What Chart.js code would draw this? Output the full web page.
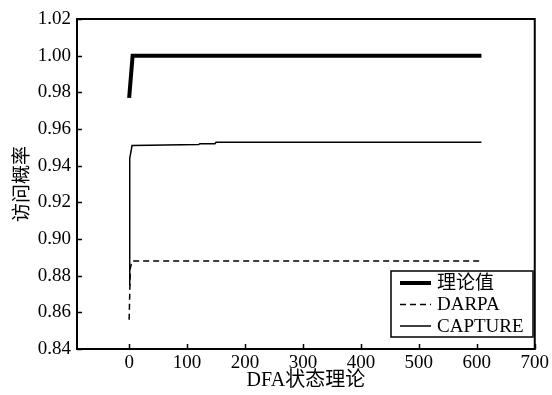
<!DOCTYPE html>
<html>
  <head>
    <meta charset="UTF-8" />
    <title>访问概率</title>
    <style>
      * { margin: 0; padding: 0; }
      body { background: #fff; width: 552px; height: 395px; overflow: hidden; }
      #wrap { width: 552px; height: 395px; }
    </style>
  </head>
  <body>
    <div id="wrap"><canvas id="chart" width="552" height="395"></canvas></div>
    <script src="https://cdn.jsdelivr.net/npm/chart.js"></script>
    <script>
      const xTicks = [0, 100, 200, 300, 400, 500, 600, 700];
      const yTicks = [0.84, 0.86, 0.88, 0.9, 0.92, 0.94, 0.96, 0.98, 1.0, 1.02];

      const theoryX = [0, 6, 608];
      const theoryY = [0.977, 1.0, 1.0];

      const darpaX = [0, 2, 5, 608];
      const darpaY = [0.856, 0.884, 0.888, 0.888];

      const captureX = [0, 1, 5, 120, 122, 148, 150, 608];
      const captureY = [0.875, 0.944, 0.951, 0.9515, 0.952, 0.952, 0.9528, 0.9528];

      const serif = "'Liberation Serif', 'Noto Sans CJK SC', serif";

      const pts = (xs, ys) => xs.map((x, i) => ({ x: x, y: ys[i] }));

      // box frame, inward ticks and legend
      const frame = {
        id: "frame",
        afterDraw(chart) {
          const ctx = chart.ctx;
          const a = chart.chartArea;
          const xs = chart.scales.x;
          const ys = chart.scales.y;
          ctx.save();
          ctx.strokeStyle = "#000";
          ctx.lineWidth = 2;
          ctx.strokeRect(a.left, a.top, a.right - a.left, a.bottom - a.top);
          ctx.lineWidth = 1.5;
          ctx.beginPath();
          xTicks.forEach((v) => {
            const px = Math.round(xs.getPixelForValue(v)) + 0.5;
            ctx.moveTo(px, a.bottom);
            ctx.lineTo(px, a.bottom - 5);
          });
          yTicks.forEach((v) => {
            const py = Math.round(ys.getPixelForValue(v)) + 0.5;
            ctx.moveTo(a.left, py);
            ctx.lineTo(a.left + 5, py);
          });
          ctx.stroke();

          // legend
          const lx = 391, ly = 271, lw = 142, lh = 66;
          ctx.fillStyle = "#fff";
          ctx.fillRect(lx, ly, lw, lh);
          ctx.lineWidth = 1.5;
          ctx.strokeRect(lx, ly, lw, lh);
          ctx.font = "19px " + serif;
          ctx.textBaseline = "middle";
          ctx.fillStyle = "#000";
          chart.data.datasets.forEach((ds, i) => {
            const yy = ly + 12 + i * 21.5;
            ctx.beginPath();
            ctx.lineWidth = ds.borderWidth;
            ctx.setLineDash(ds.borderDash || []);
            ctx.moveTo(lx + 9, yy);
            ctx.lineTo(lx + 40, yy);
            ctx.stroke();
            ctx.setLineDash([]);
            ctx.fillText(ds.label, lx + 46, yy + 1);
          });
          ctx.restore();
        },
      };

      new Chart(document.getElementById("chart"), {
        type: "line",
        data: {
          datasets: [
            { label: "理论值", data: pts(theoryX, theoryY), borderColor: "#000", borderWidth: 4 },
            { label: "DARPA", data: pts(darpaX, darpaY), borderColor: "#000", borderWidth: 1.5, borderDash: [6, 4] },
            { label: "CAPTURE", data: pts(captureX, captureY), borderColor: "#000", borderWidth: 1.5 },
          ],
        },
        options: {
          responsive: false,
          animation: false,
          layout: { padding: { top: 19, right: 15, left: 0, bottom: 0 } },
          elements: { point: { radius: 0 }, line: { tension: 0, fill: false } },
          plugins: { legend: { display: false }, tooltip: { enabled: false } },
          scales: {
            x: {
              type: "linear",
              min: -90,
              max: 700,
              afterBuildTicks: (s) => { s.ticks = xTicks.map((v) => ({ value: v })); },
              afterFit: (s) => { s.height = 46; },
              grid: { display: false, drawTicks: false },
              border: { display: false },
              ticks: { color: "#000", padding: 3, font: { family: serif, size: 19 }, maxRotation: 0 },
              title: { display: true, text: "DFA状态理论", color: "#000", padding: { top: 0, bottom: 2 }, font: { family: serif, size: 20 } },
            },
            y: {
              min: 0.84,
              max: 1.02,
              afterBuildTicks: (s) => { s.ticks = yTicks.map((v) => ({ value: v })); },
              afterFit: (s) => { s.width = 77; },
              grid: { display: false, drawTicks: false },
              border: { display: false },
              ticks: { color: "#000", padding: 6, font: { family: serif, size: 19 }, callback: (v) => v.toFixed(2) },
              title: { display: true, text: "访问概率", color: "#000", padding: { top: 12, bottom: 0 }, font: { family: serif, size: 19 } },
            },
          },
        },
        plugins: [frame],
      });
    </script>
  </body>
</html>
